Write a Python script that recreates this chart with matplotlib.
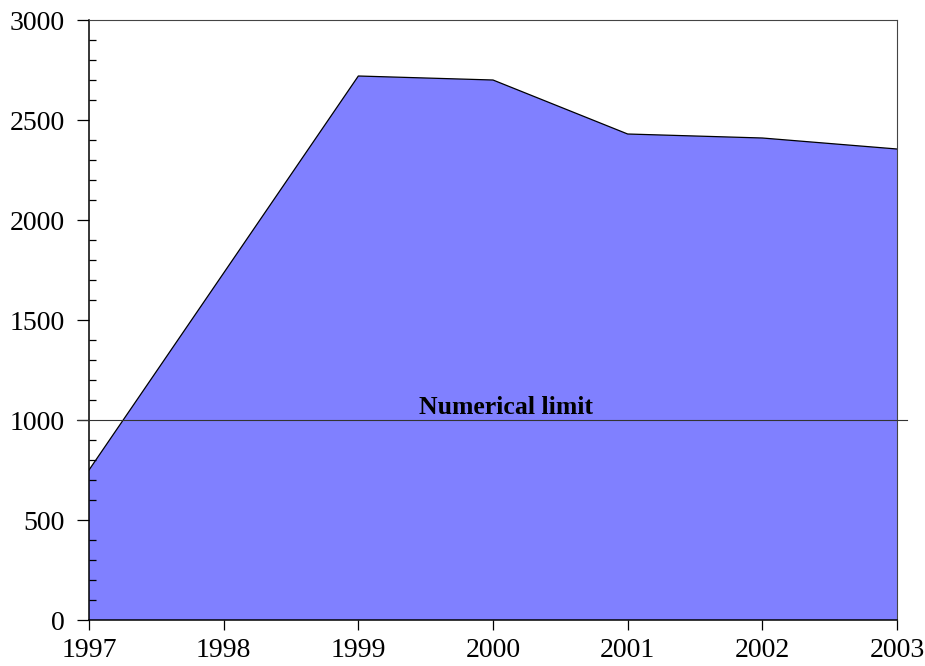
import matplotlib.pyplot as plt
from matplotlib.ticker import MultipleLocator

years = [1997, 1998, 1999, 2000, 2001, 2002, 2003]
values = [750, 1735, 2720, 2700, 2430, 2410, 2355]
limit = 1000
limit_label = "Numerical limit"

plt.rcParams.update({
    "font.family": "serif",
    "font.serif": ["Liberation Serif", "DejaVu Serif"],
    "font.size": 20,
})

fig = plt.figure(figsize=(9.25, 6.66), dpi=100)
ax = fig.add_axes([89 / 925, 46 / 666, 808 / 925, 600 / 666])

ax.fill_between(years, values, 0, facecolor="#8080FF", edgecolor="none", zorder=1)
ax.plot(years, values, color="black", linewidth=0.9, zorder=2)

ax.axhline(limit, xmin=-0.015, xmax=1.012, color="#333333", linewidth=0.8,
           clip_on=False, zorder=3)
ax.text(2000.1, limit + 5, limit_label, ha="center", va="bottom",
        fontsize=18.5, fontweight="bold", zorder=4)

ax.set_xlim(1997, 2003)
ax.set_ylim(0, 3000)
ax.set_xticks(years)
ax.set_xticklabels([str(y) for y in years])
ax.yaxis.set_major_locator(MultipleLocator(500))
ax.yaxis.set_minor_locator(MultipleLocator(100))

ax.tick_params(axis="x", which="major", direction="out", length=7, width=0.9, pad=6)
ax.tick_params(axis="y", which="major", direction="out", length=8.6, width=0.9, pad=9)
ax.tick_params(axis="y", which="minor", direction="in", length=5, width=0.9)

ax.spines["left"].set_linewidth(1.1)
ax.spines["bottom"].set_linewidth(1.1)
ax.spines["top"].set_color("#444444")
ax.spines["top"].set_linewidth(0.8)
ax.spines["right"].set_color("#444444")
ax.spines["right"].set_linewidth(0.8)

fig.savefig("out.png", dpi=100)
